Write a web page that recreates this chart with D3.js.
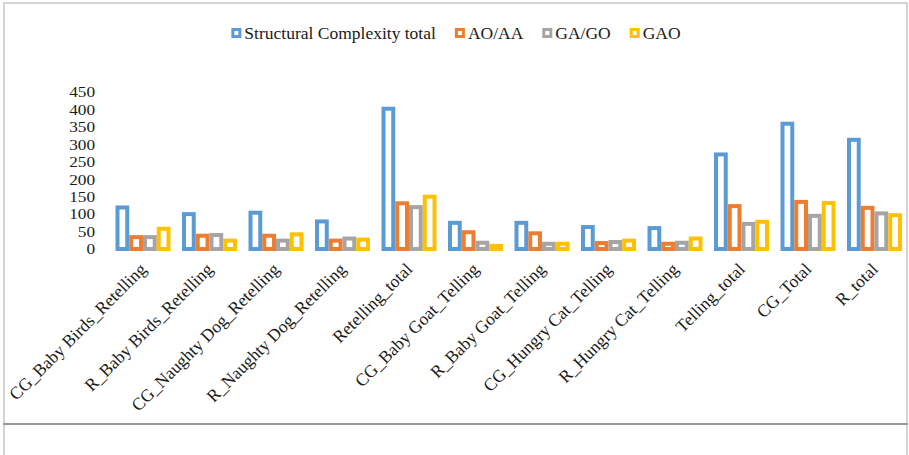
<!DOCTYPE html>
<html>
<head>
<meta charset="utf-8">
<script src="https://cdn.jsdelivr.net/npm/d3@7"></script>
<style>
  html, body { margin: 0; padding: 0; background: #fff; }
  svg { display: block; }
  text { font-family: "Liberation Serif", "Times New Roman", serif; fill: #1a1a1a; }
</style>
</head>
<body>
<svg id="chart" width="909" height="455"></svg>
<script>
// Story-task categories along the x axis
const categories = [
  "CG_Baby Birds_Retelling", "R_Baby Birds_Retelling", "CG_Naughty Dog_Retelling",
  "R_Naughty Dog_Retelling", "Retelling_total", "CG_Baby Goat_Telling",
  "R_Baby Goat_Telling", "CG_Hungry Cat_Telling", "R_Hungry Cat_Telling",
  "Telling_total", "CG_Total", "R_total"
];

// Series names shown in the legend
const seriesNames = ["Structural Complexity total", "AO/AA", "GA/GO", "GAO"];

// Values per series, one per category
const structuralTotal = [119, 100, 104, 79, 402, 75, 75, 63, 60, 271, 359, 313];
const aoAa            = [34, 38, 38, 24, 131, 48, 45, 17, 15, 123, 135, 118];
const gaGo            = [34, 40, 24, 30, 120, 18, 15, 20, 18, 72, 95, 102];
const gao             = [58, 24, 42, 27, 150, 9, 15, 24, 30, 78, 132, 97];

const seriesValues = [structuralTotal, aoAa, gaGo, gao];
const seriesColors = ["#5B9BD5", "#ED7D31", "#A5A5A5", "#FFC000"];

// Y axis tick values
const yTicks = [0, 50, 100, 150, 200, 250, 300, 350, 400, 450];

const svg = d3.select("#chart");

// Frame lines
svg.append("line").attr("x1", 4).attr("x2", 4).attr("y1", 2).attr("y2", 455)
  .attr("stroke", "#d4d4d4").attr("stroke-width", 2);
svg.append("line").attr("x1", 907).attr("x2", 907).attr("y1", 2).attr("y2", 455)
  .attr("stroke", "#d4d4d4").attr("stroke-width", 2);
svg.append("line").attr("x1", 3).attr("x2", 908).attr("y1", 3).attr("y2", 3)
  .attr("stroke", "#d4d4d4").attr("stroke-width", 2);
svg.append("line").attr("x1", 3).attr("x2", 908).attr("y1", 424).attr("y2", 424)
  .attr("stroke", "#9a9a9a").attr("stroke-width", 2);

// Scales
const y = d3.scaleLinear().domain([0, 450]).range([249, 92]);
const x0 = d3.scaleBand().domain(categories).range([109.75, 907.75])
  .paddingInner(0.173).paddingOuter(0.0865);
const x1 = d3.scaleBand().domain(d3.range(seriesNames.length))
  .range([0, x0.bandwidth()]).padding(0);

// Y axis: labels only
const yAxis = d3.axisLeft(y).tickValues(yTicks).tickSize(0).tickPadding(5);
const gy = svg.append("g").attr("transform", "translate(100,0)").call(yAxis);
gy.select(".domain").remove();
gy.selectAll("text")
  .style("font-family", '"Liberation Serif", "Times New Roman", serif')
  .style("font-size", "15px").attr("fill", "#1a1a1a")
  .attr("transform", "scale(1.15,1)")
  .attr("x", -5 / 1.15);

// Bars: white fill with a thick coloured outline
const sw = 4;
const groups = svg.append("g").selectAll("g")
  .data(categories)
  .join("g")
  .attr("transform", d => `translate(${x0(d)},0)`);

groups.selectAll("rect")
  .data((d, i) => seriesValues.map((vals, s) => ({ s, v: vals[i] })))
  .join("rect")
  .attr("x", d => x1(d.s) + sw / 2)
  .attr("width", x1.bandwidth() - sw)
  .attr("y", d => y(d.v))
  .attr("height", d => y(0) - y(d.v))
  .attr("fill", "#fff")
  .attr("stroke", d => seriesColors[d.s])
  .attr("stroke-width", sw);

// X axis category labels, rotated
const xAxis = d3.axisBottom(x0).tickSize(0).tickPadding(0);
const gx = svg.append("g").attr("transform", "translate(0,249)").call(xAxis);
gx.select(".domain").remove();
gx.selectAll(".tick text")
  .style("font-family", '"Liberation Serif", "Times New Roman", serif')
  .style("font-size", "17.5px")
  .attr("fill", "#1a1a1a")
  .attr("text-anchor", "end")
  .attr("dy", "0.35em")
  .attr("transform", "translate(0,17) rotate(-45)");

// Legend
const legend = svg.append("g").attr("class", "legend");
const box = 10, gap = 3, itemGap = 19;
let lx = 0;
seriesNames.forEach((name, i) => {
  const item = legend.append("g").attr("transform", `translate(${lx},0)`);
  item.append("rect")
    .attr("x", 1.5).attr("y", -box / 2 + 1.5)
    .attr("width", box - 3).attr("height", box - 3)
    .attr("fill", "#fff").attr("stroke", seriesColors[i]).attr("stroke-width", 3);
  const t = item.append("text")
    .attr("x", box + gap).attr("y", 0).attr("dy", "0.35em")
    .style("font-size", "17.5px")
    .text(name);
  lx += box + gap + t.node().getComputedTextLength() + itemGap;
});
const legendWidth = lx - itemGap;
legend.attr("transform", `translate(${456 - legendWidth / 2},33)`);
</script>
</body>
</html>
